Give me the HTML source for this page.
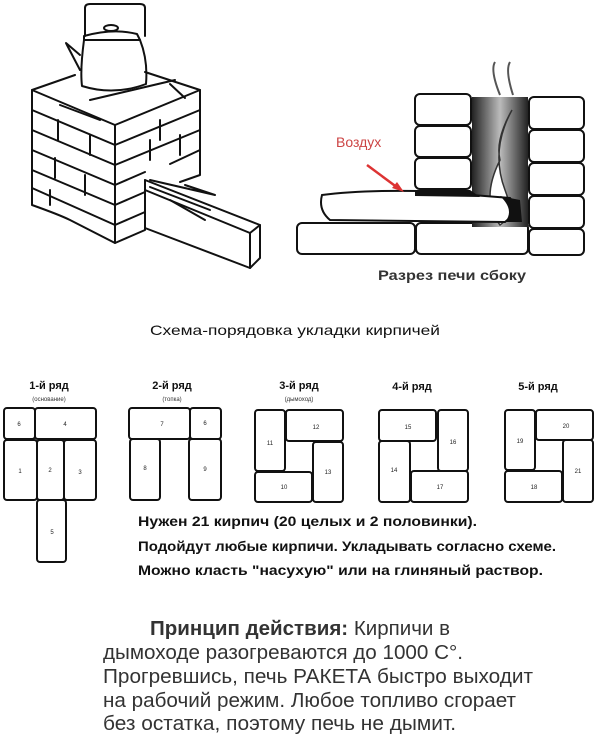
<!DOCTYPE html>
<html><head><meta charset="utf-8"><style>
html,body{margin:0;padding:0;background:#fff;width:600px;height:735px;overflow:hidden}
svg{display:block}
text{font-family:"Liberation Sans",sans-serif}
</style></head><body>
<svg width="600" height="735" viewBox="0 0 600 735" xmlns="http://www.w3.org/2000/svg">
<defs><linearGradient id="g" x1="0" x2="1"><stop offset="0" stop-color="#222"/><stop offset="0.5" stop-color="#bbb"/><stop offset="1" stop-color="#222"/></linearGradient></defs>
<g fill="none" stroke="#111" stroke-width="2" stroke-linejoin="round" stroke-linecap="round">
<path d="M85 36 L85 8 Q85 4 90 4 L140 4 Q145 4 145 8 L145 36"/>
<path d="M84 36 Q114 28 137 34 L140 40 L84 40 Z"/>
<path d="M84 40 Q80 70 82 86 Q114 96 146 84 Q148 60 140 40"/>
<path d="M80 55 L66 43 L68 47 L80 70"/>
<ellipse cx="111" cy="28" rx="7" ry="3"/>
<path d="M32 90 L75 75 M145 72 L200 90 L115 125 L32 90"/>
<path d="M90 100 L175 80 M60 105 L100 120 M170 84 L185 98"/>
<path d="M32 90 L32 205 Q60 215 70 220 L115 243 L145 230 L145 180"/>
<path d="M200 90 L200 175 L180 182"/>
<path d="M115 125 L115 243"/>
<path d="M32 110 L115 145 L200 110 M32 130 L115 165 L200 130 M32 150 L115 185 L145 172 M32 170 L115 205 L145 192 M32 188 L115 225 L145 212 M170 164 L200 150"/>
<path d="M58 120 L58 140 M90 135 L90 155 M55 158 L55 178 M85 175 L85 195 M150 140 L150 160 M160 120 L160 140 M180 135 L180 155 M50 190 L50 205"/>
<path d="M145 180 L260 225 L260 258 L250 268 L145 228"/>
<path d="M145 190 L250 233 L260 225 M250 233 L250 268"/>
<path d="M150 180 L215 195 M150 187 L210 210 M185 185 L215 195 M170 200 L205 220"/>
<rect x="415" y="94" width="56" height="31" rx="5"/><rect x="415" y="126" width="56" height="31" rx="5"/><rect x="415" y="158" width="56" height="31" rx="5"/>
<rect x="529" y="97" width="55" height="32" rx="5"/><rect x="529" y="130" width="55" height="32" rx="5"/><rect x="529" y="163" width="55" height="32" rx="5"/><rect x="529" y="196" width="55" height="32" rx="5"/>
<rect x="297" y="223" width="118" height="31" rx="5"/><rect x="416" y="223" width="112" height="31" rx="5"/><rect x="529" y="229" width="55" height="26" rx="5"/>
</g>
<rect x="472" y="97" width="56" height="130" fill="url(#g)"/>
<path d="M500 95 Q490 70 495 62 M513 95 Q505 70 510 62" stroke="#555" stroke-width="2" fill="none"/>
<path d="M512 110 Q490 150 505 190 Q515 215 500 225 Q480 200 500 160 Q495 140 512 110Z" fill="#fff" stroke="#333" stroke-width="1.5"/>
<path d="M322 195 Q360 190 420 191 L510 198 Q520 210 505 222 L330 220 Q318 210 322 195Z" fill="#fff" stroke="#111" stroke-width="2"/>
<path d="M415 190 L470 190 L480 197 L415 196Z" fill="#111"/>
<path d="M500 196 L520 200 L522 222 L505 222 Q515 210 500 196Z" fill="#111"/>
<path d="M367 165 L398 188" stroke="#d33" stroke-width="2.5"/><path d="M392 188 L404 192 L397 182Z" fill="#d33"/>
<text x="336" y="147" font-size="14" fill="#c44">Воздух</text>
<text x="378" y="280" font-size="14" font-weight="bold" fill="#333" textLength="148" lengthAdjust="spacingAndGlyphs">Разрез печи сбоку</text>
<text x="150" y="335" font-size="14" fill="#111" textLength="290" lengthAdjust="spacingAndGlyphs">Схема-порядовка укладки кирпичей</text>
<g font-size="11" font-weight="bold" text-anchor="middle" fill="#111">
<text x="49" y="389">1-й ряд</text><text x="172" y="389">2-й ряд</text><text x="299" y="389">3-й ряд</text><text x="412" y="390">4-й ряд</text><text x="538" y="390">5-й ряд</text></g>
<g font-size="6" text-anchor="middle" fill="#333"><text x="49" y="401">(основание)</text><text x="172" y="401">(топка)</text><text x="299" y="401">(дымоход)</text></g>
<g fill="none" stroke="#111" stroke-width="2">
<rect x="4" y="408" width="31" height="31" rx="3"/><rect x="35" y="408" width="61" height="31" rx="3"/>
<rect x="4" y="440" width="33" height="60" rx="3"/><rect x="37" y="440" width="27" height="60" rx="3"/><rect x="64" y="440" width="32" height="60" rx="3"/><rect x="37" y="500" width="29" height="62" rx="3"/>
<rect x="129" y="408" width="61" height="31" rx="3"/><rect x="190" y="408" width="31" height="31" rx="3"/>
<rect x="130" y="439" width="30" height="61" rx="3"/><rect x="189" y="439" width="32" height="61" rx="3"/>
<rect x="255" y="410" width="30" height="61" rx="3"/><rect x="286" y="410" width="57" height="31" rx="3"/><rect x="313" y="442" width="30" height="60" rx="3"/><rect x="255" y="472" width="57" height="30" rx="3"/>
<rect x="379" y="410" width="57" height="31" rx="3"/><rect x="438" y="410" width="30" height="61" rx="3"/><rect x="379" y="441" width="31" height="61" rx="3"/><rect x="411" y="471" width="57" height="31" rx="3"/>
<rect x="505" y="410" width="30" height="60" rx="3"/><rect x="536" y="410" width="57" height="30" rx="3"/><rect x="563" y="440" width="30" height="62" rx="3"/><rect x="505" y="471" width="57" height="31" rx="3"/>
</g>
<g font-size="6" text-anchor="middle" fill="#222">
<text x="19" y="426">6</text><text x="65" y="426">4</text><text x="20" y="473">1</text><text x="50" y="472">2</text><text x="80" y="474">3</text><text x="52" y="534">5</text>
<text x="162" y="426">7</text><text x="205" y="425">6</text><text x="145" y="470">8</text><text x="205" y="471">9</text>
<text x="270" y="445">11</text><text x="316" y="429">12</text><text x="328" y="474">13</text><text x="284" y="489">10</text>
<text x="408" y="429">15</text><text x="453" y="444">16</text><text x="394" y="472">14</text><text x="440" y="489">17</text>
<text x="520" y="443">19</text><text x="566" y="428">20</text><text x="578" y="473">21</text><text x="534" y="489">18</text>
</g>
<g font-size="14" font-weight="bold" fill="#111" lengthAdjust="spacingAndGlyphs">
<text x="138" y="526" textLength="339" lengthAdjust="spacingAndGlyphs">Нужен 21 кирпич (20 целых и 2 половинки).</text>
<text x="138" y="551" textLength="418" lengthAdjust="spacingAndGlyphs">Подойдут любые кирпичи.  Укладывать согласно схеме.</text>
<text x="138" y="575" textLength="405" lengthAdjust="spacingAndGlyphs">Можно класть "насухую" или на глиняный раствор.</text>
</g>
<g font-size="20" fill="#333">
<text x="150" y="635" textLength="300" lengthAdjust="spacingAndGlyphs"><tspan font-weight="bold">Принцип действия:</tspan> Кирпичи в</text>
<text x="103" y="659" textLength="360" lengthAdjust="spacingAndGlyphs">дымоходе разогреваются до 1000 С°.</text>
<text x="103" y="683" textLength="430" lengthAdjust="spacingAndGlyphs">Прогревшись, печь РАКЕТА быстро выходит</text>
<text x="103" y="707" textLength="413" lengthAdjust="spacingAndGlyphs">на рабочий режим. Любое топливо сгорает</text>
<text x="103" y="730" textLength="353" lengthAdjust="spacingAndGlyphs">без остатка, поэтому печь не дымит.</text>
</g>
</svg>
</body></html>
